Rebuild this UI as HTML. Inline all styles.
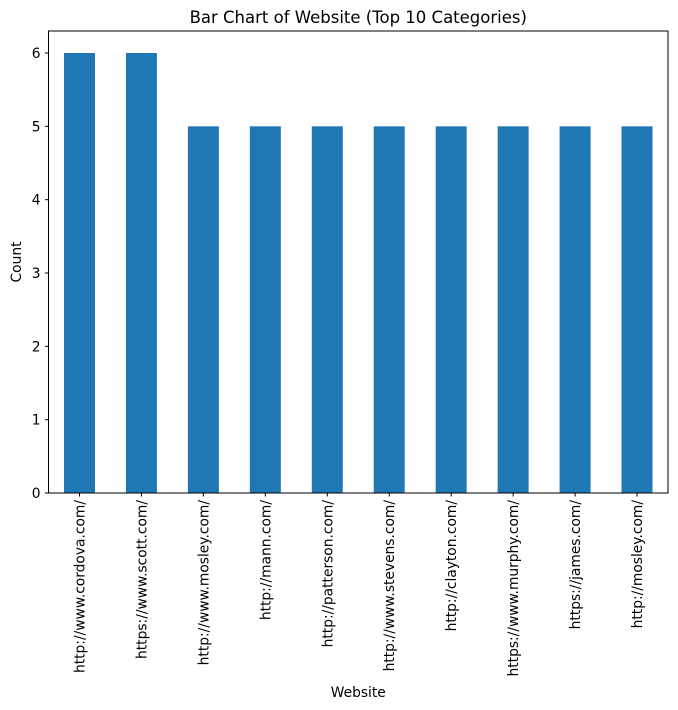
<!DOCTYPE html>
<html><head><meta charset="utf-8"><style>body{margin:0;background:#fff}svg{display:block;font-family:"DejaVu Sans","Liberation Sans",sans-serif}</style></head>
<body>
<svg id="chart" width="678" height="710" xmlns="http://www.w3.org/2000/svg"></svg>
<script>
const categories=["http://www.cordova.com/","https://www.scott.com/","http://www.mosley.com/","http://mann.com/","http://patterson.com/","http://www.stevens.com/","http://clayton.com/","https://www.murphy.com/","https://james.com/","http://mosley.com/"];
const counts=[6,6,5,5,5,5,5,5,5,5];
const yTicks=[0,1,2,3,4,5,6];
const svg=document.getElementById('chart');
const NS='http://www.w3.org/2000/svg';
const L=48.5,R=668,T=31,B=493;
const ymax=Math.max(...counts)*1.05;
const y=v=>B-(B-T)*v/ymax;
const step=(R-L)/categories.length;
const x=i=>L+step*(i+0.5);
function mk(tag,attrs,text){const e=document.createElementNS(NS,tag);for(const k in attrs)e.setAttribute(k,attrs[k]);if(text!==undefined)e.textContent=text;svg.appendChild(e);return e;}
counts.forEach((v,i)=>{
 const r=mk('rect',{x:x(i)-step*0.25,y:y(v),width:step*0.5,height:B-y(v),fill:'#1f77b4'});
 
 
});
const frame=mk('rect',{x:L,y:T,width:R-L,height:B-T,fill:'none',stroke:'#000','stroke-width':1});


yTicks.forEach(t=>{
 mk('line',{x1:L-3.5,x2:L,y1:y(t),y2:y(t),stroke:'#000'});
 const tx=mk('text',{x:L-8,y:y(t)+5,'text-anchor':'end','font-size':'13.8'},t);
 
 
});
categories.forEach((c,i)=>{
 mk('line',{x1:x(i),x2:x(i),y1:B,y2:B+3.5,stroke:'#000'});
 const tx=mk('text',{x:0,y:0,'text-anchor':'end','font-size':'13.8',transform:`translate(${x(i)+5},${B+7}) rotate(-90)`},c);
 
 
});
const tt=mk('text',{x:(L+R)/2,y:23,'text-anchor':'middle','font-size':'16.5'},'Bar Chart of Website (Top 10 Categories)');


const xt=mk('text',{x:(L+R)/2,y:697,'text-anchor':'middle','font-size':'13.8'},'Website');


const yt=mk('text',{x:0,y:0,'text-anchor':'middle','font-size':'13.8',transform:`translate(21,${(T+B)/2}) rotate(-90)`},'Count');


</script>
</body></html>
